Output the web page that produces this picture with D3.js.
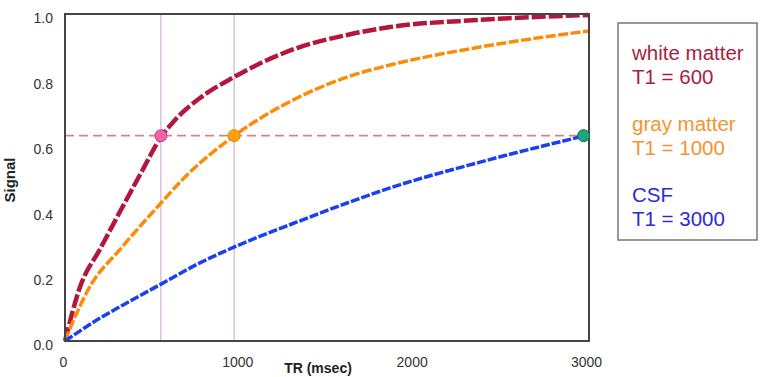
<!DOCTYPE html>
<html>
<head>
<meta charset="utf-8">
<script src="https://cdn.jsdelivr.net/npm/d3@7"></script>
<style>
    body { margin: 0; background: #fff; }
    svg { display: block; font-family: 'Liberation Sans', Arial, sans-serif; }
</style>
</head>
<body>
<div id="chart"></div>
<script>
// TR (msec) against signal
var whiteMatter = [[0, 0], [86, 0.165], [201, 0.281], [327, 0.407], [442, 0.52], [551, 0.624], [631, 0.676],
    [774, 0.743], [969, 0.807], [1331, 0.896], [1618, 0.936], [1864, 0.96], [2381, 0.982], [3000, 0.997]];
var grayMatter = [[0, 0], [57, 0.073], [132, 0.156], [327, 0.287], [551, 0.422], [671, 0.492], [969, 0.627],
    [1331, 0.743], [1618, 0.807], [1864, 0.844], [2381, 0.899], [3000, 0.948]];
var csf = [[0, 0], [201, 0.07], [373, 0.122], [551, 0.174], [774, 0.239], [969, 0.287], [1331, 0.364],
    [1618, 0.422], [1864, 0.468], [2381, 0.547], [3000, 0.63]];

var seriesNames = ['white matter', 'gray matter', 'CSF'];
var t1Labels = ['T1 = 600', 'T1 = 1000', 'T1 = 3000'];
var xTicks = [0, 1000, 2000, 3000];
var yTicks = [0, 0.2, 0.4, 0.6, 0.8, 1.0];

// 63% points of each curve
var markerTR = [550, 970, 2975];
var markerSignal = 0.628;

var W = 767, H = 377;
var colors = ['#b3183c', '#fb8c0a', '#1c3ff2'];
var textColors = ['#a81e40', '#f39432', '#2b2bd6'];
var dashes = ['14,3', '10,2.5', '9,2'];
var widths = [4.5, 3.5, 3.5];
var markerFill = ['#f064a8', '#f7a20a', '#21a57f'];
var markerStroke = ['#c8407a', '#e08a00', '#136b52'];

var svg = d3.select('#chart').append('svg')
    .attr('width', W)
    .attr('height', H);

var x = d3.scaleLinear().domain([0, 3000]).range([65, 588]);
var y = d3.scaleLinear().domain([0, 1]).range([341, 14]);

// guide lines
svg.selectAll('line.vguide')
    .data(markerTR.slice(0, 2))
    .enter().append('line')
    .attr('class', 'vguide')
    .attr('x1', function(d) { return x(d); })
    .attr('x2', function(d) { return x(d); })
    .attr('y1', y(1))
    .attr('y2', y(0))
    .attr('stroke', '#c2a6c8')
    .attr('stroke-width', 1);

svg.append('line')
    .attr('x1', x(0))
    .attr('x2', x(3000))
    .attr('y1', y(markerSignal))
    .attr('y2', y(markerSignal))
    .attr('stroke', '#d08686')
    .attr('stroke-width', 1.8)
    .attr('stroke-dasharray', '9,5');

// curves
var line = d3.line()
    .x(function(d) { return x(d[0]); })
    .y(function(d) { return y(d[1]); })
    .curve(d3.curveMonotoneX);

svg.selectAll('path.curve')
    .data([whiteMatter, grayMatter, csf])
    .enter().append('path')
    .attr('class', 'curve')
    .attr('d', line)
    .attr('fill', 'none')
    .attr('stroke', function(d, i) { return colors[i]; })
    .attr('stroke-width', function(d, i) { return widths[i]; })
    .attr('stroke-dasharray', function(d, i) { return dashes[i]; });

// frame
svg.append('rect')
    .attr('x', x(0))
    .attr('y', y(1))
    .attr('width', x(3000) - x(0) + 1)
    .attr('height', y(0) - y(1))
    .attr('fill', 'none')
    .attr('stroke', '#444')
    .attr('stroke-width', 2);

svg.selectAll('circle.marker')
    .data(markerTR)
    .enter().append('circle')
    .attr('class', 'marker')
    .attr('cx', function(d) { return x(d); })
    .attr('cy', y(markerSignal))
    .attr('r', 6)
    .attr('fill', function(d, i) { return markerFill[i]; })
    .attr('stroke', function(d, i) { return markerStroke[i]; })
    .attr('stroke-width', 1);

// axes
var xAxis = svg.append('g')
    .attr('transform', 'translate(0,' + y(0) + ')')
    .call(d3.axisBottom(x).tickValues(xTicks).tickSize(0).tickPadding(16).tickFormat(d3.format('d')));
xAxis.select('.domain').remove();
xAxis.selectAll('text')
    .attr('dx', -2)
    .attr('fill', '#333')
    .style('font-size', '14px')
    .style('font-family', "'Liberation Sans', Arial, sans-serif");

var yAxis = svg.append('g')
    .attr('transform', 'translate(' + x(0) + ',0)')
    .call(d3.axisLeft(y).tickValues(yTicks).tickSize(0).tickPadding(12).tickFormat(d3.format('.1f')));
yAxis.select('.domain').remove();
yAxis.selectAll('text')
    .attr('dy', '0.64em')
    .attr('fill', '#333')
    .style('font-size', '14px')
    .style('font-family', "'Liberation Sans', Arial, sans-serif");

svg.append('text')
    .attr('transform', 'translate(15,180) rotate(-90)')
    .attr('text-anchor', 'middle')
    .attr('font-weight', 'bold')
    .attr('font-size', 15)
    .attr('fill', '#222')
    .text('Signal');

svg.append('text')
    .attr('x', 318)
    .attr('y', 373)
    .attr('text-anchor', 'middle')
    .attr('font-weight', 'bold')
    .attr('font-size', 14)
    .attr('fill', '#222')
    .text('TR (msec)');

// legend box
svg.append('rect')
    .attr('x', 618)
    .attr('y', 23)
    .attr('width', 139)
    .attr('height', 217)
    .attr('fill', '#fff')
    .attr('stroke', '#777')
    .attr('stroke-width', 1.5);

var legend = svg.selectAll('g.entry')
    .data(seriesNames)
    .enter().append('g')
    .attr('class', 'entry')
    .attr('transform', function(d, i) { return 'translate(632,' + (60 + i * 71) + ')'; })
    .attr('fill', function(d, i) { return textColors[i]; })
    .style('font-size', '20.5px');

legend.append('text').text(function(d) { return d; });
legend.append('text')
    .attr('y', 24)
    .text(function(d, i) { return t1Labels[i]; });
</script>
</body>
</html>
